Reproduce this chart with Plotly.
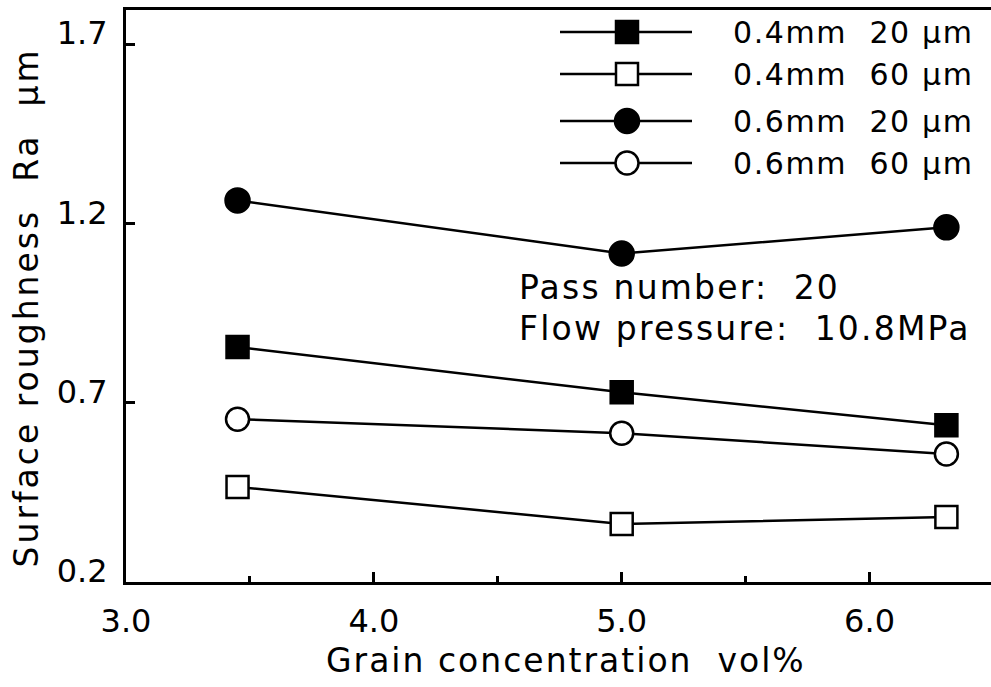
import plotly.graph_objects as go

# ---- data ----
grain_conc = [3.45, 5.0, 6.31]
series_names = ["0.4mm  20 μm", "0.4mm  60 μm", "0.6mm  20 μm", "0.6mm  60 μm"]
ra_04_20 = [0.855, 0.729, 0.637]
ra_04_60 = [0.465, 0.362, 0.381]
ra_06_20 = [1.264, 1.116, 1.189]
ra_06_60 = [0.654, 0.615, 0.557]
series_values = [ra_04_20, ra_04_60, ra_06_20, ra_06_60]
x_ticks = [3.0, 4.0, 5.0, 6.0]
x_tick_labels = ["3.0", "4.0", "5.0", "6.0"]
y_ticks = [0.2, 0.7, 1.2, 1.7]
y_tick_labels = ["0.2", "0.7", "1.2", "1.7"]
x_title = "Grain concentration  vol%"
y_title = "Surface roughness  Ra  μm"
notes = ["Pass number:  20", "Flow pressure:  10.8MPa"]

# ---- styles ----
symbols = ["square", "square", "circle", "circle"]
fills = ["black", "white", "black", "white"]
sizes = [22, 22, 24, 23]
FONT = "DejaVu Sans, Liberation Sans, Arial, sans-serif"
W, H = 991, 687
L, R, T, B = 126, 0, 10, 105


def spaced(txt, px):
    return f'<span style="letter-spacing:{px}px">{txt}</span>'


fig = go.Figure()
for name, vals, sym, fc, sz in zip(series_names, series_values, symbols, fills, sizes):
    fig.add_trace(go.Scatter(
        x=grain_conc, y=vals, mode="lines+markers", name=name,
        line=dict(color="black", width=2.5),
        marker=dict(symbol=sym, size=sz, color=fc, line=dict(color="black", width=2.5)),
        showlegend=False,
    ))

# custom legend drawn on an overlay axis measured in pixels
leg_rows = [32, 74, 121, 163]
leg_x0, leg_x1, leg_mx, leg_tx = 560, 692, 627, 731
for name, sym, fc, sz, yy in zip(series_names, symbols, fills, sizes, leg_rows):
    fig.add_trace(go.Scatter(
        x=[leg_x0, leg_x1], y=[yy, yy], mode="lines",
        xaxis="x2", yaxis="y2", showlegend=False, hoverinfo="skip",
        line=dict(color="black", width=2.5),
    ))
    fig.add_trace(go.Scatter(
        x=[leg_mx], y=[yy], mode="markers",
        xaxis="x2", yaxis="y2", showlegend=False, hoverinfo="skip",
        marker=dict(symbol=sym, size=sz, color=fc, line=dict(color="black", width=2.5)),
    ))
    fig.add_annotation(x=leg_tx, y=yy, xref="x2", yref="y2", text=spaced(name, 1.6), showarrow=False,
                       xanchor="left", yanchor="middle", font=dict(family=FONT, size=30, color="black"))

for note, yy in zip(notes, [287, 328]):
    fig.add_annotation(x=517, y=yy, xref="x2", yref="y2", text=spaced(note, 2.2), showarrow=False,
                       xanchor="left", yanchor="middle", font=dict(family=FONT, size=33, color="black"))

# axis titles
fig.add_annotation(x=0.509, y=-0.137, xref="paper", yref="paper", text=spaced(x_title, 2.0),
                   showarrow=False, xanchor="center", yanchor="middle",
                   font=dict(family=FONT, size=33, color="black"))
fig.add_annotation(x=-0.1156, y=0.48, xref="paper", yref="paper", text=spaced(y_title, 3.0),
                   showarrow=False, textangle=-90, xanchor="center", yanchor="middle",
                   font=dict(family=FONT, size=33, color="black"))

fig.update_layout(
    width=W, height=H, margin=dict(l=L, r=R, t=T, b=B),
    paper_bgcolor="white", plot_bgcolor="white",
    font=dict(family=FONT, color="black"),
    xaxis=dict(range=[3.0, 6.49], tickvals=x_ticks, ticktext=x_tick_labels,
               ticks="inside", ticklen=10, tickwidth=2.5, tickcolor="black",
               minor=dict(tickvals=[3.5, 4.5, 5.5], ticks="inside", ticklen=6, tickwidth=2.5, tickcolor="black"),
               showline=True, linecolor="black", linewidth=3, mirror=True,
               showgrid=False, zeroline=False, tickfont=dict(size=32), ticklabelstandoff=9),
    yaxis=dict(range=[0.2, 1.795], tickvals=y_ticks, ticktext=y_tick_labels,
               ticks="inside", ticklen=9, tickwidth=2.5, tickcolor="black",
               showline=True, linecolor="black", linewidth=3, mirror=False,
               showgrid=False, zeroline=False, tickfont=dict(size=32), ticklabelstandoff=9,
               ticklabelshift=-11),
    xaxis2=dict(overlaying="x", range=[L, W - R], visible=False, fixedrange=True),
    yaxis2=dict(overlaying="y", range=[H - B, T], visible=False, fixedrange=True),
)

fig.write_html("out.html")
